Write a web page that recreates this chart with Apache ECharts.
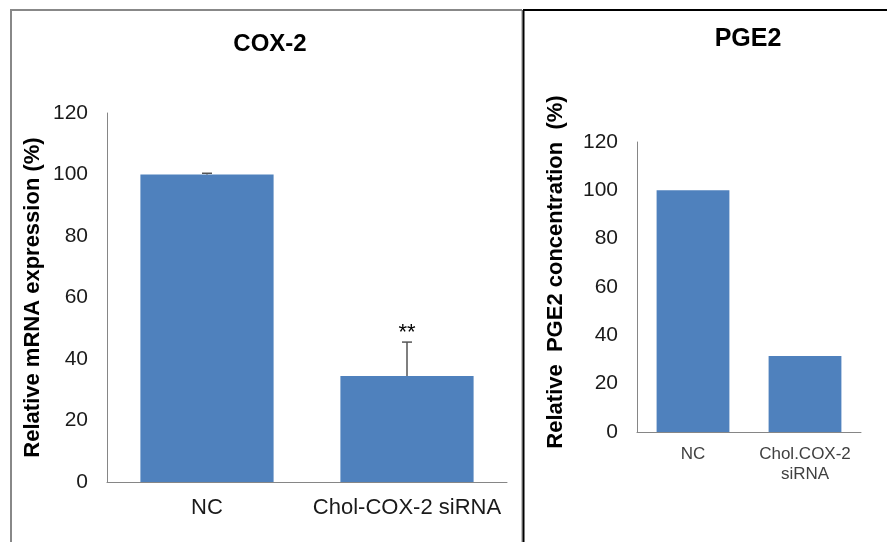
<!DOCTYPE html>
<html><head><meta charset="utf-8">
<script src="https://cdn.jsdelivr.net/npm/echarts@6/dist/echarts.min.js"></script>
<style>html,body{margin:0;padding:0;background:#fff}#c{width:887px;height:542px}</style>
</head><body><div id="c"></div>
<script>
const coxCategories = ['NC', 'Chol-COX-2 siRNA'];
const coxValues = [100, 34.5];
const coxErrors = [0.4, 11];
const coxSig = ['', '**'];
const pgeCategories = ['NC', 'Chol.COX-2\nsiRNA'];
const pgeValues = [100, 31.5];
const yTicks = [0, 20, 40, 60, 80, 100, 120];

const chart = echarts.init(document.getElementById('c'));
const font = 'Liberation Sans, Arial, sans-serif';
const barColor = '#4F81BD';

function errRender(errs, sig) {
  return function (params, api) {
    const i = api.value(0);
    const v = api.value(1);
    const top = api.coord([i, v + errs[i]]);
    const base = api.coord([i, v]);
    const children = [
      {type: 'line', shape: {x1: base[0], y1: base[1], x2: top[0], y2: top[1]}, style: {stroke: '#555', lineWidth: 1.5}},
      {type: 'line', shape: {x1: top[0] - 5, y1: top[1], x2: top[0] + 5, y2: top[1]}, style: {stroke: '#555', lineWidth: 1.5}}
    ];
    if (sig[i]) {
      children.push({type: 'text', x: top[0], y: top[1] + 2, style: {text: sig[i], fill: '#000', font: '22px ' + font, align: 'center', verticalAlign: 'bottom'}});
    }
    return {type: 'group', children: children};
  };
}

chart.setOption({
  animation: false,
  graphic: [
    {type: 'line', shape: {x1: 11, y1: 10, x2: 522, y2: 10}, style: {stroke: '#888', lineWidth: 2}},
    {type: 'line', shape: {x1: 11, y1: 9, x2: 11, y2: 542}, style: {stroke: '#888', lineWidth: 2}},
    {type: 'line', shape: {x1: 522, y1: 10, x2: 522, y2: 542}, style: {stroke: '#888', lineWidth: 1}},
    {type: 'line', shape: {x1: 523.5, y1: 10, x2: 523.5, y2: 542}, style: {stroke: '#000', lineWidth: 2}},
    {type: 'line', shape: {x1: 523, y1: 10, x2: 887, y2: 10}, style: {stroke: '#000', lineWidth: 2}}
  ],
  title: [
    {text: 'COX-2', left: 265, top: 27, textAlign: 'center', textStyle: {fontFamily: font, fontSize: 24, fontWeight: 'bold', color: '#000'}},
    {text: 'PGE2', left: 743, top: 22, textAlign: 'center', textStyle: {fontFamily: font, fontSize: 25, fontWeight: 'bold', color: '#000'}}
  ],
  grid: [
    {left: 107, top: 113, width: 400, height: 369},
    {left: 637, top: 142, width: 224, height: 290}
  ],
  xAxis: [
    {type: 'category', gridIndex: 0, data: coxCategories, axisLine: {lineStyle: {color: '#868686'}}, axisTick: {show: false},
     axisLabel: {interval: 0, hideOverlap: false, fontFamily: font, fontSize: 22, color: '#1a1a1a', margin: 15}},
    {type: 'category', gridIndex: 1, data: pgeCategories, axisLine: {lineStyle: {color: '#868686'}}, axisTick: {show: false},
     axisLabel: {interval: 0, hideOverlap: false, fontFamily: font, fontSize: 17, color: '#404040', margin: 12, lineHeight: 20}}
  ],
  yAxis: [
    {type: 'value', gridIndex: 0, min: yTicks[0], max: yTicks[yTicks.length - 1], interval: 20, splitLine: {show: false},
     axisLine: {show: true, lineStyle: {color: '#868686'}}, axisTick: {show: false},
     axisLabel: {fontFamily: font, fontSize: 21, color: '#1a1a1a', margin: 19},
     name: 'Relative mRNA expression (%)', nameLocation: 'middle', nameGap: 63, nameRotate: 90,
     nameTextStyle: {fontFamily: font, fontSize: 22, fontWeight: 'bold', color: '#000'}},
    {type: 'value', gridIndex: 1, min: yTicks[0], max: yTicks[yTicks.length - 1], interval: 20, splitLine: {show: false},
     axisLine: {show: true, lineStyle: {color: '#868686'}}, axisTick: {show: false},
     axisLabel: {fontFamily: font, fontSize: 21, color: '#1a1a1a', margin: 19},
     name: 'Relative  PGE2 concentration  (%)', nameLocation: 'middle', nameGap: 70, nameRotate: 90,
     nameTextStyle: {fontFamily: font, fontSize: 22, fontWeight: 'bold', color: '#000', padding: [0, 0, 0, 30]}}
  ],
  series: [
    {type: 'bar', xAxisIndex: 0, yAxisIndex: 0, data: coxValues, barWidth: '66.6%', itemStyle: {color: barColor}},
    {type: 'custom', xAxisIndex: 0, yAxisIndex: 0, data: coxValues.map((v, i) => [i, v]), renderItem: errRender(coxErrors, coxSig), z: 5},
    {type: 'bar', xAxisIndex: 1, yAxisIndex: 1, data: pgeValues, barWidth: '65%', itemStyle: {color: barColor}}
  ]
});
</script></body></html>
